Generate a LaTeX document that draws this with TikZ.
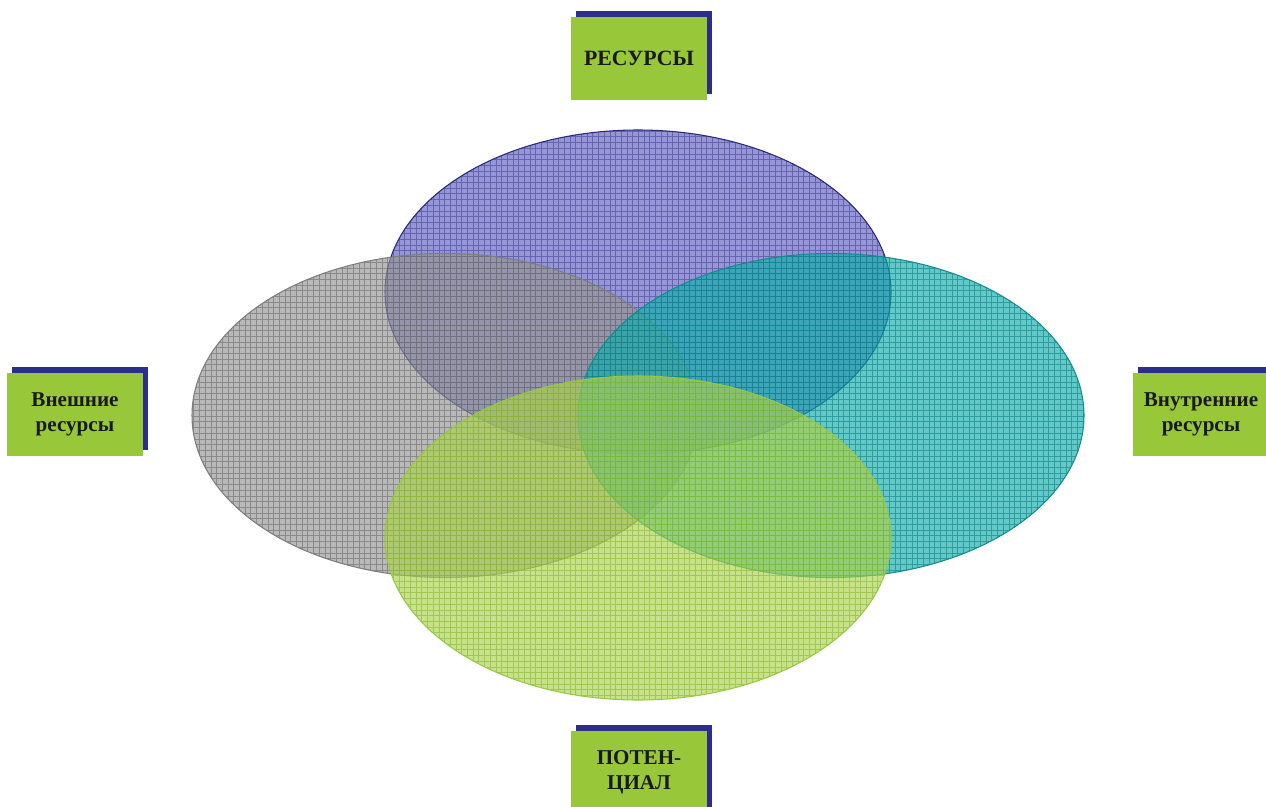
\documentclass[tikz,border=0pt]{standalone}
\usepackage{fontspec}
\setmainfont{Liberation Serif}
\usetikzlibrary{shadows}
\definecolor{leafgreen}{RGB}{152,200,58}
\definecolor{shadownavy}{RGB}{45,45,140}
\definecolor{textdark}{RGB}{25,25,25}
\definecolor{bluefill}{RGB}{94,94,194}
\definecolor{bluegrid}{RGB}{60,60,150}
\definecolor{blueedge}{RGB}{40,40,120}
\definecolor{grayfill}{RGB}{148,148,148}
\definecolor{graygrid}{RGB}{100,100,100}
\definecolor{grayedge}{RGB}{125,125,125}
\definecolor{tealfill}{RGB}{17,171,171}
\definecolor{tealgrid}{RGB}{0,125,125}
\definecolor{tealedge}{RGB}{20,140,140}
\definecolor{greenfill}{RGB}{171,209,78}
\definecolor{greengrid}{RGB}{130,180,40}
\definecolor{greenedge}{RGB}{150,200,70}
\tikzset{
  labelbox/.style={rectangle, fill=leafgreen, text=textdark, minimum width=2.72cm,
                   minimum height=1.66cm, align=center, inner sep=2pt,
                   font=\bfseries\fontsize{12}{14.2}\selectfont,
                   general shadow={fill=shadownavy, shadow xshift=0.1cm, shadow yshift=0.12cm}},
  titlebox/.style={labelbox, font=\bfseries\fontsize{12.4}{14.2}\selectfont},
  gridfill/.style={fill opacity=0.65},
  gridlines/.style={line width=0.35pt, opacity=0.55},
}

\begin{document}
\begin{tikzpicture}
\useasboundingbox (0,0) rectangle (25.32,-16.14);
\fill[white] (0,0) rectangle (25.32,-16.14);

% four ellipses: centre x / centre y / fill / grid / edge
\foreach \cx/\cy/\fc/\gc/\ec in {12.76/-5.84/bluefill/bluegrid/blueedge,
                                 8.90/-8.31/grayfill/graygrid/grayedge,
                                 16.62/-8.31/tealfill/tealgrid/tealedge,
                                 12.76/-10.76/greenfill/greengrid/greenedge}{
  \fill[\fc, gridfill] (\cx,\cy) ellipse [x radius=5.06, y radius=3.24];
  \begin{scope}
    \clip (\cx,\cy) ellipse [x radius=5.06, y radius=3.24];
    \draw[\gc, gridlines] (\cx-5.2,\cy-3.4) grid[step=0.114] (\cx+5.2,\cy+3.4);
  \end{scope}
  \draw[\ec, line width=0.6pt] (\cx,\cy) ellipse [x radius=5.06, y radius=3.24];
}

\node[titlebox] (resources) at (12.78,-1.17) {РЕСУРСЫ};
\node[labelbox] (external) at (1.50,-8.29) {Внешние\\ресурсы};
\node[labelbox] (internal) at (24.02,-8.29) {Внутренние\\ресурсы};
\node[labelbox] (potential) at (12.78,-15.45) {ПОТЕН-\\ЦИАЛ};
\end{tikzpicture}
\end{document}
